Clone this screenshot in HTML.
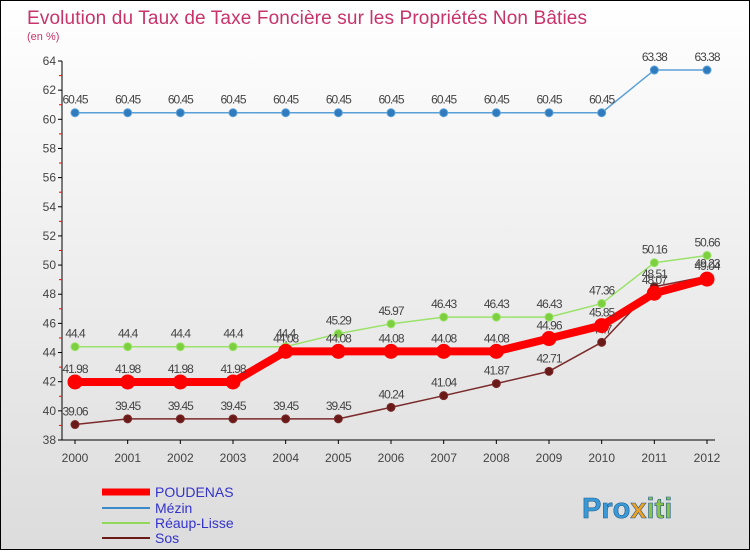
<!DOCTYPE html>
<html><head><meta charset="utf-8"><style>
body{margin:0;width:750px;height:550px;overflow:hidden;font-family:"Liberation Sans",sans-serif}
</style></head><body>
<svg width="750" height="550" xmlns="http://www.w3.org/2000/svg" id="svg">
<defs><linearGradient id="bg" x1="0" y1="0" x2="0" y2="1"><stop offset="0" stop-color="#ffffff"/><stop offset="1" stop-color="#dcdcdc"/></linearGradient></defs>
<rect x="0.5" y="0.5" width="749" height="549" fill="url(#bg)" stroke="#000"/>
<text x="27" y="24" font-size="19" fill="#c8336a" textLength="560">Evolution du Taux de Taxe Foncière sur les Propriétés Non Bâties</text>
<text x="27" y="40" font-size="11" fill="#c8336a">(en %)</text>
<g id="axes"></g><g id="series"></g>
<g font-size="14" fill="#3333cc">
<line x1="102" y1="492" x2="150" y2="492" stroke="#f00" stroke-width="7"/><text x="155" y="497">POUDENAS</text>
<line x1="102" y1="508" x2="150" y2="508" stroke="#3a8ac8" stroke-width="2"/><text x="155" y="513">Mézin</text>
<line x1="102" y1="523" x2="150" y2="523" stroke="#8fd85a" stroke-width="2"/><text x="155" y="528">Réaup-Lisse</text>
<line x1="102" y1="538" x2="150" y2="538" stroke="#6b1a1a" stroke-width="2"/><text x="155" y="543">Sos</text>
</g>
<text x="582" y="518" font-size="29" font-weight="bold" fill="#3a9ad8" stroke="#1a5a8a" stroke-width="0.6">Pro<tspan fill="#f0a020">x</tspan><tspan fill="#8bc34a">iti</tspan></text>
</svg>
<script>
const years=[2000,2001,2002,2003,2004,2005,2006,2007,2008,2009,2010,2011,2012];
const yTicks=[38,40,42,44,46,48,50,52,54,56,58,60,62,64];
const poudenas=[41.98,41.98,41.98,41.98,44.08,44.08,44.08,44.08,44.08,44.96,45.85,48.07,49.04];
const mezin=[60.45,60.45,60.45,60.45,60.45,60.45,60.45,60.45,60.45,60.45,60.45,63.38,63.38];
const reaup=[44.4,44.4,44.4,44.4,44.4,45.29,45.97,46.43,46.43,46.43,47.36,50.16,50.66];
const sos=[39.06,39.45,39.45,39.45,39.45,39.45,40.24,41.04,41.87,42.71,44.7,48.51,49.23];
const NS="http://www.w3.org/2000/svg";
const X=i=>75+i*(632/12), Y=v=>440-(v-38)*(379/26);
function mk(t,a,p){const e=document.createElementNS(NS,t);for(const k in a)e.setAttribute(k,a[k]);p.appendChild(e);return e;}
const ax=document.getElementById('axes');
let l=mk('line',{x1:62,y1:61,x2:62,y2:440,stroke:'#000'},ax);

l=mk('line',{x1:62,y1:440,x2:715,y2:440,stroke:'#000'},ax);

yTicks.forEach(v=>{const y=Y(v);
 mk('line',{x1:58,y1:y,x2:62,y2:y,stroke:'#000'},ax);
 if(v<64) mk('line',{x1:59,y1:Y(v+1),x2:62,y2:Y(v+1),stroke:'#f00'},ax);
 const t=mk('text',{x:56,y:y+4,'font-size':12,'text-anchor':'end',fill:'#444'},ax);t.textContent=v;
 });
years.forEach((yr,i)=>{const x=X(i);
 mk('line',{x1:x,y1:440,x2:x,y2:444,stroke:'#000'},ax);
 const t=mk('text',{x:x,y:462,'font-size':12,'text-anchor':'middle',fill:'#444'},ax);t.textContent=yr;
 });
const sg=document.getElementById('series');
function draw(vals,color,w,r,name,dark){
 const g=mk('g',{},sg);
 mk('polyline',{points:vals.map((v,i)=>X(i)+','+Y(v)).join(' '),fill:'none',stroke:color,'stroke-width':w,'stroke-linejoin':'round'},g);
 vals.forEach((v,i)=>{const c=mk('circle',{cx:X(i),cy:Y(v),r:r,fill:dark,stroke:color},g);
  
  const t=mk('text',{x:X(i),y:Y(v)-9,'font-size':12,'text-anchor':'middle',fill:'#444','letter-spacing':'-1'},g);t.textContent=v;});
}
draw(mezin,'#5aa0d8',1.5,4,'mezin','#2f7bbd');
draw(reaup,'#9be26a',1.5,4,'reaup-lisse','#7ccf3e');
draw(sos,'#7a2a2a',1.5,4,'sos','#6b1a1a');
draw(poudenas,'#ff0000',8,7,'poudenas','#ff0000');
</script>
</body></html>
